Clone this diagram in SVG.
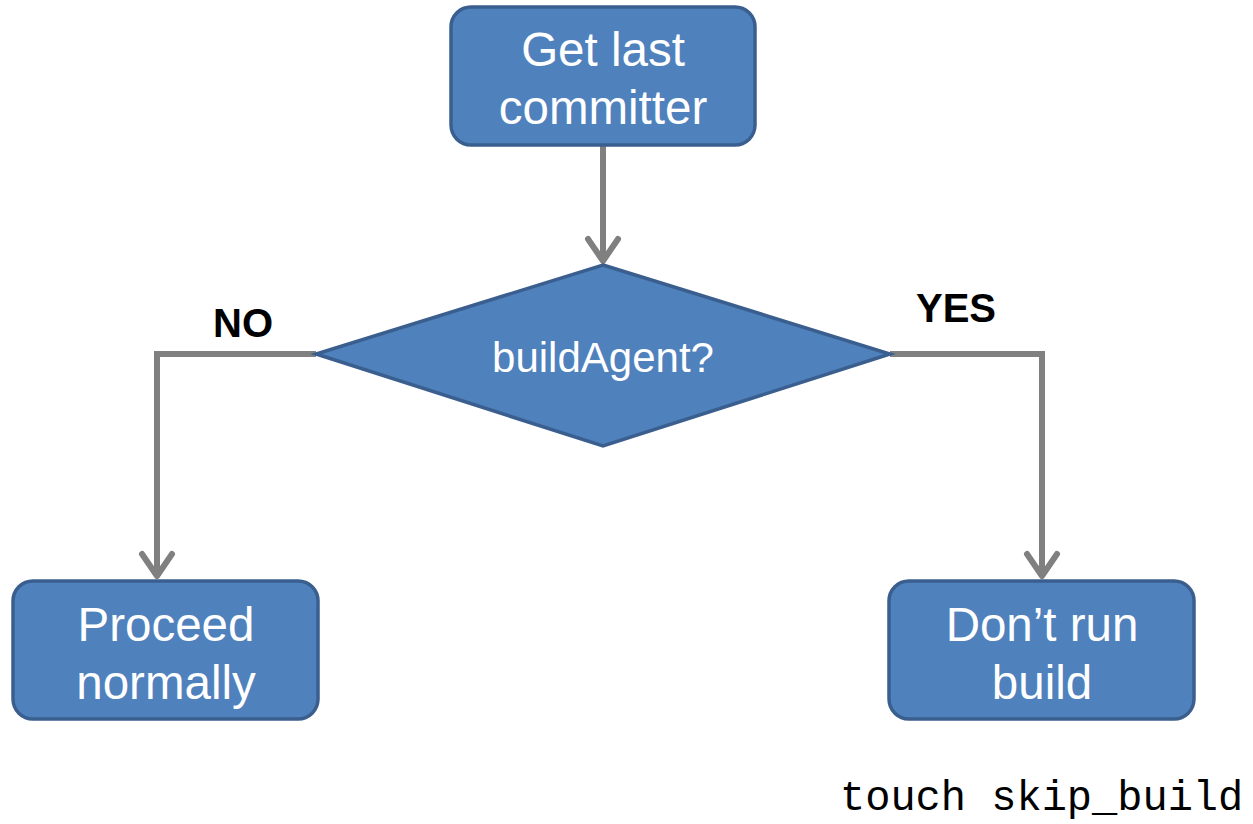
<svg xmlns="http://www.w3.org/2000/svg" width="1253" height="824" viewBox="0 0 1253 824">
<style>
.box{fill:#4F81BD;stroke:#3A5F8F;stroke-width:3.5}
.lbl{font-family:"Liberation Sans",Arial,sans-serif;fill:#fff;text-anchor:middle}
.big{font-size:47.5px}
.mid{font-size:42px}
.yn{font-family:"Liberation Sans",Arial,sans-serif;font-weight:bold;font-size:40px;fill:#000;text-anchor:middle}
.conn{fill:none;stroke:#808080;stroke-width:6}
.head{fill:none;stroke:#808080;stroke-width:6;stroke-linecap:round;stroke-linejoin:round}
.code{font-family:"Liberation Mono","Courier New",monospace;font-size:42px;fill:#000}
</style>
<rect width="1253" height="824" fill="#fff"/>
<g id="connectors">
<path class="conn" d="M603 146 V261"/>
<path class="head" d="M588 239 L603 261 L618 239"/>
<path class="conn" d="M316 354 H157 V576"/>
<path class="head" d="M142 554 L157 576 L172 554"/>
<path class="conn" d="M890 354 H1042 V576"/>
<path class="head" d="M1027 554 L1042 576 L1057 554"/>
</g>
<g id="get-last">
<rect class="box" x="451" y="7" width="304" height="138" rx="20"/>
<text class="lbl big" x="603" y="66">Get last</text>
<text class="lbl big" x="603" y="124">committer</text>
</g>
<g id="decision">
<polygon class="box" points="603,265 890,354 603,446 316,354"/>
<text class="lbl mid" x="603" y="372">buildAgent?</text>
</g>
<g id="proceed">
<rect class="box" x="13" y="581" width="305" height="138" rx="20"/>
<text class="lbl big" x="166" y="641">Proceed</text>
<text class="lbl big" x="166" y="699">normally</text>
</g>
<g id="dont-run">
<rect class="box" x="889" y="581" width="305" height="138" rx="20"/>
<text class="lbl big" x="1042" y="641">Don’t run</text>
<text class="lbl big" x="1042" y="699">build</text>
</g>
<text class="yn" x="243" y="337">NO</text>
<text class="yn" x="956" y="322">YES</text>
<text class="code" x="840" y="810">touch skip_build</text>
</svg>
